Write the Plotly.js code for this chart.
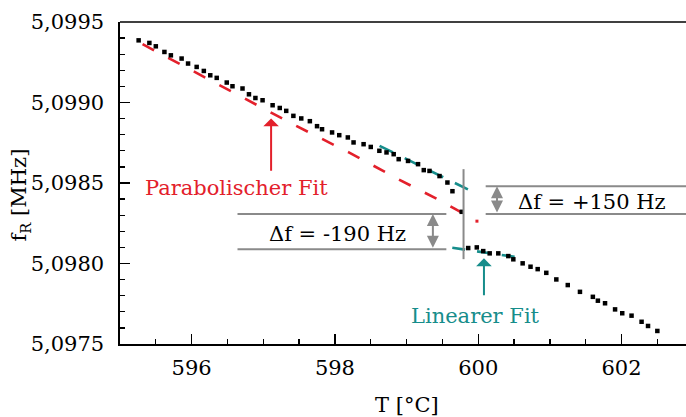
<!DOCTYPE html>
<html>
<head>
<meta charset="utf-8">
<script src="https://cdn.plot.ly/plotly-3.0.1.min.js"></script>
<style>
html,body{margin:0;padding:0;overflow:hidden;background:#fff;}
#chart{width:686px;height:417px;}
</style>
</head>
<body>
<div id="chart"></div>
<script>
// Measured data (T in °C, f_R in MHz)
const T = [595.26, 595.41, 595.50, 595.62, 595.71, 595.86, 595.95, 596.07, 596.17, 596.26,
           596.35, 596.49, 596.57, 596.71, 596.80, 596.89, 596.99, 597.13, 597.23, 597.32,
           597.42, 597.53, 597.65, 597.75, 597.82, 597.96, 598.06, 598.18, 598.26, 598.40,
           598.50, 598.62, 598.72, 598.82, 598.89, 599.02, 599.16, 599.24, 599.32, 599.46,
           599.57, 599.64, 599.77, 599.86, 599.98, 600.07, 600.16, 600.28, 600.42, 600.49,
           600.62, 600.73, 600.83, 600.95, 601.09, 601.25, 601.42, 601.60, 601.67, 601.77,
           601.91, 602.01, 602.14, 602.28, 602.37, 602.50];
const fR = [5.099386, 5.099370, 5.099349, 5.099314, 5.099293, 5.099273, 5.099242, 5.099221, 5.099196, 5.099169,
            5.099153, 5.099124, 5.099101, 5.099087, 5.099051, 5.099028, 5.099014, 5.098983, 5.098966, 5.098948,
            5.098917, 5.098901, 5.098884, 5.098853, 5.098834, 5.098814, 5.098797, 5.098783, 5.098752, 5.098741,
            5.098724, 5.098700, 5.098690, 5.098679, 5.098648, 5.098637, 5.098617, 5.098580, 5.098575, 5.098543,
            5.098503, 5.098449, 5.098321, 5.098096, 5.098100, 5.098077, 5.098063, 5.098063, 5.098046, 5.098026,
            5.098001, 5.097980, 5.097965, 5.097942, 5.097901, 5.097866, 5.097824, 5.097793, 5.097769, 5.097753,
            5.097715, 5.097691, 5.097676, 5.097638, 5.097612, 5.097581];

// Parabolic fit (red dashed)
const parT = [595.315, 596.024, 596.746, 597.467, 598.194, 598.892, 599.429, 599.772];
const parF = [5.099362, 5.099194, 5.099025, 5.098853, 5.098690, 5.098522, 5.098400, 5.098315];
const parDotT = [599.982];
const parDotF = [5.098263];

// Linear fits (teal dashed)
const linUpT = [598.623, 599.856];
const linUpF = [5.098731, 5.098460];
const linLoT = [599.638, 600.527];
const linLoF = [5.098098, 5.098040];

// Annotation levels
const jumpT = 599.795;
const jumpF = [5.098027, 5.098586];
const levelParab = 5.098307;
const levelLinLo = 5.098088;
const levelLinUp = 5.098480;
const leftSpan = [596.64, 599.555];
const rightSpan = [600.104, 603.0];

const labels = {
  x: 'T [°C]',
  y: 'f<sub>R</sub> [MHz]',
  parab: 'Parabolischer Fit',
  lin: 'Linearer Fit',
  dUp: 'Δf = +150 Hz',
  dLo: 'Δf = -190 Hz'
};

const RED = '#e3202b';
const TEAL = '#168d8b';
const GREY = '#8a8a8a';
const FONT = 'DejaVu Serif';

const traces = [
  {x: parT, y: parF, mode: 'lines', line: {color: RED, width: 2.6, dash: '13px,16px'}, hoverinfo: 'skip'},
  {x: parDotT, y: parDotF, mode: 'markers', marker: {color: RED, size: 3, symbol: 'square'}},
  {x: linUpT, y: linUpF, mode: 'lines', line: {color: TEAL, width: 2.6, dash: '15px,13px'}},
  {x: linLoT, y: linLoF, mode: 'lines', line: {color: TEAL, width: 2.6, dash: '13px,12px'}},
  {x: T, y: fR, mode: 'markers', marker: {color: '#000', size: 4.5, symbol: 'square', line: {width: 0}}}
];

const gl = {color: GREY, width: 2};
const shapes = [
  {type: 'line', xref: 'paper', yref: 'paper', x0: 0, x1: 1, y0: 1, y1: 1, line: {color: '#000', width: 1.6}},
  {type: 'line', x0: jumpT, x1: jumpT, y0: jumpF[0], y1: jumpF[1], line: gl},
  {type: 'line', x0: leftSpan[0], x1: leftSpan[1], y0: levelParab, y1: levelParab, line: gl},
  {type: 'line', x0: leftSpan[0], x1: leftSpan[1], y0: levelLinLo, y1: levelLinLo, line: gl},
  {type: 'line', x0: rightSpan[0], x1: rightSpan[1], y0: levelLinUp, y1: levelLinUp, line: gl},
  {type: 'line', x0: rightSpan[0], x1: rightSpan[1], y0: levelParab, y1: levelParab, line: gl}
];

const annotations = [
  {x: 596.625, y: 5.098468, xref: 'x', yref: 'y', text: labels.parab, showarrow: false,
   font: {family: FONT, size: 21, color: RED}},
  {x: 599.957, y: 5.097676, xref: 'x', yref: 'y', text: labels.lin, showarrow: false,
   font: {family: FONT, size: 21, color: TEAL}},
  {x: 601.592, y: 5.098383, xref: 'x', yref: 'y', text: labels.dUp, showarrow: false,
   font: {family: FONT, size: 21, color: '#000'}},
  {x: 598.036, y: 5.098183, xref: 'x', yref: 'y', text: labels.dLo, showarrow: false,
   font: {family: FONT, size: 21, color: '#000'}},
  {x: 597.109, y: 5.098901, ax: 597.109, ay: 5.098567, xref: 'x', yref: 'y', axref: 'x', ayref: 'y',
   text: '', showarrow: true, arrowhead: 1, arrowsize: 1.3, arrowwidth: 2, arrowcolor: RED},
  {x: 600.08, y: 5.098032, ax: 600.08, ay: 5.097794, xref: 'x', yref: 'y', axref: 'x', ayref: 'y',
   text: '', showarrow: true, arrowhead: 1, arrowsize: 1.3, arrowwidth: 2, arrowcolor: TEAL},
  {x: 599.367, y: levelParab, ax: 599.367, ay: levelLinLo, xref: 'x', yref: 'y', axref: 'x', ayref: 'y',
   text: '', showarrow: true, arrowside: 'end+start', arrowhead: 2, arrowsize: 1.2, arrowwidth: 2, arrowcolor: GREY},
  {x: 600.262, y: levelLinUp, ax: 600.262, ay: levelParab, xref: 'x', yref: 'y', axref: 'x', ayref: 'y',
   text: '', showarrow: true, arrowside: 'end+start', arrowhead: 2, arrowsize: 1.2, arrowwidth: 2, arrowcolor: GREY},
  {x: 599.008, y: -0.19, xref: 'x', yref: 'paper', text: labels.x, showarrow: false,
   xanchor: 'center', yanchor: 'middle', font: {family: FONT, size: 21, color: '#000'}},
  {x: -0.176, y: 5.098425, xref: 'paper', yref: 'y', text: labels.y, showarrow: false, textangle: -90,
   xanchor: 'center', yanchor: 'middle', font: {family: FONT, size: 21, color: '#000'}}
];

const layout = {
  width: 686, height: 417,
  margin: {l: 120, r: 0, t: 22, b: 73, pad: 0},
  paper_bgcolor: '#fff', plot_bgcolor: '#fff',
  showlegend: false,
  separators: ',.',
  font: {family: FONT, size: 21, color: '#000'},
  xaxis: {
    range: [595, 602.9], showgrid: false, zeroline: false,
    showline: true, linecolor: '#000', linewidth: 1.6, mirror: false,
    ticks: 'inside', ticklen: 10, tickwidth: 1.3, tickcolor: '#000',
    tick0: 596, dtick: 2, ticklabelstandoff: 4,
    tickfont: {family: FONT, size: 21, color: '#000'},
    minor: {ticks: 'inside', ticklen: 5, tickwidth: 1.3, tickcolor: '#000', dtick: 0.5, tick0: 595, showgrid: false}
  },
  yaxis: {
    range: [5.0975, 5.0995], showgrid: false, zeroline: false,
    showline: true, linecolor: '#000', linewidth: 1.6, mirror: false,
    ticks: 'inside', ticklen: 10, tickwidth: 1.3, tickcolor: '#000',
    tick0: 5.0975, dtick: 0.0005, tickformat: '.4f', ticklabelstandoff: 10,
    tickfont: {family: FONT, size: 21, color: '#000'},
    minor: {ticks: 'inside', ticklen: 5, tickwidth: 1.3, tickcolor: '#000', dtick: 0.0001, tick0: 5.0975, showgrid: false}
  },
  shapes: shapes,
  annotations: annotations
};

Plotly.newPlot('chart', traces, layout, {staticPlot: true, displayModeBar: false});
</script>
</body>
</html>
